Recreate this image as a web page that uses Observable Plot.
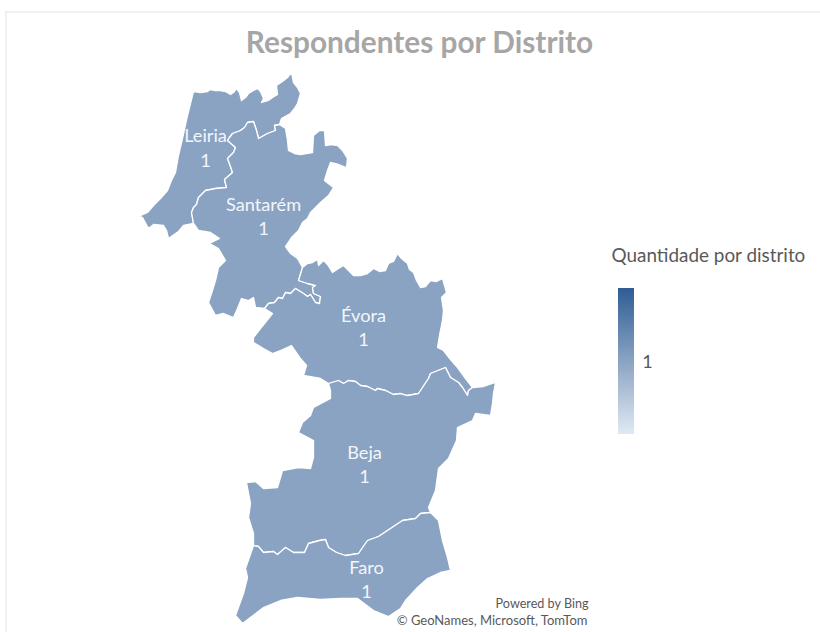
<!DOCTYPE html>
<html>
<head>
<meta charset="utf-8">
<script src="https://cdn.jsdelivr.net/npm/d3@7"></script>
<script src="https://cdn.jsdelivr.net/npm/@observablehq/plot@0.6"></script>
<style>html,body{margin:0;padding:0;background:#fff}svg{display:block}</style>
</head>
<body>
<div id="chart"></div>
<script>
// Outlines, in map units
const leiria = [[193,91],[200,92],[207,91],[210,89],[215,90],[220,90],[225,91],[230,94],[233,92],[236,88],[239,92],[241,100],[245,97],[248,93],[253,90],[257,88],[260,91],[263,98],[261,102],[268,100],[272,97],[277,94],[276,85],[282,81],[287,77],[291,72],[293,82],[297,87],[300,93],[297,103],[294,108],[290,113],[281,118],[279,124],[274,125],[275,130],[267,133],[258,138],[256,130],[253,121],[247,122],[244,127],[240,130],[232,133],[229,137],[227,140],[235,147],[233,152],[227,158],[230,166],[232,172],[224,179],[226,187],[215,188],[205,190],[198,197],[196,204],[193,207],[191,212],[193,223],[183,225],[178,231],[175,233],[168,238],[166,230],[163,225],[153,224],[148,228],[142,217],[138,216],[147,212],[153,205],[160,198],[167,190],[171,180],[175,172],[178,155],[182,138],[187,115]];
const santarem = [[279,124],[285,128],[287,140],[288,150],[294,153],[300,154],[312,152],[313,135],[319,130],[324,130],[325,145],[331,144],[337,145],[342,150],[347,158],[346,167],[338,164],[330,162],[327,170],[324,180],[333,187],[328,195],[320,202],[310,212],[307,218],[302,222],[298,230],[291,237],[285,246],[290,253],[297,258],[302,267],[298,280],[307,283],[315,285],[312,287],[313,293],[320,296],[319,303],[315,302],[310,294],[307,296],[303,293],[295,288],[290,293],[285,292],[282,298],[278,297],[274,302],[268,303],[264,308],[255,307],[253,297],[248,300],[241,298],[237,308],[233,317],[223,313],[215,315],[208,302],[212,290],[215,280],[218,267],[225,260],[218,248],[209,243],[219,238],[210,232],[198,230],[193,223],[191,212],[193,207],[196,204],[198,197],[205,190],[215,188],[226,187],[224,179],[232,172],[230,166],[227,158],[233,152],[235,147],[227,140],[229,137],[232,133],[240,130],[244,127],[247,122],[253,121],[256,130],[258,138],[267,133],[275,130],[274,125]];
const evora = [[302,267],[307,263],[312,262],[317,259],[318,265],[323,260],[327,264],[332,272],[338,268],[343,265],[348,270],[353,275],[360,275],[367,273],[373,268],[379,271],[385,270],[388,263],[393,261],[397,253],[401,258],[407,263],[409,269],[413,272],[416,280],[420,287],[425,286],[430,280],[436,281],[442,278],[446,292],[441,297],[443,310],[442,320],[439,335],[437,347],[443,350],[450,359],[457,367],[465,378],[472,387],[468,390],[467,395],[462,387],[458,382],[450,377],[445,367],[430,373],[428,378],[418,393],[407,395],[400,393],[393,394],[385,390],[377,388],[375,390],[367,386],[360,385],[355,381],[348,380],[343,383],[338,380],[328,383],[320,378],[303,375],[306,365],[300,358],[291,345],[280,350],[272,353],[263,348],[253,342],[253,337],[260,328],[268,318],[272,313],[264,308],[268,303],[274,302],[278,297],[282,298],[285,292],[290,293],[295,288],[303,293],[307,296],[310,294],[315,302],[319,303],[320,296],[313,293],[312,287],[315,285],[307,283],[298,280]];
const beja = [[472,387],[483,386],[495,382],[493,393],[492,403],[490,415],[482,414],[475,413],[472,420],[457,427],[456,440],[448,458],[438,468],[435,490],[428,507],[430,512],[420,513],[415,518],[402,520],[390,528],[378,536],[367,540],[358,553],[345,555],[336,552],[328,547],[325,539],[319,540],[308,543],[304,552],[293,552],[285,547],[277,554],[273,551],[263,552],[258,546],[253,545],[253,533],[248,517],[250,503],[246,482],[255,481],[263,488],[277,487],[280,477],[282,470],[298,467],[310,468],[313,457],[313,440],[298,432],[302,422],[310,415],[313,407],[330,398],[330,390],[328,383],[338,380],[343,383],[348,380],[355,381],[360,385],[367,386],[375,390],[377,388],[385,390],[393,394],[400,393],[407,395],[418,393],[428,378],[430,373],[445,367],[450,377],[458,382],[462,387],[467,395],[468,390]];
const faro = [[430,512],[438,520],[442,540],[447,557],[450,570],[440,572],[427,578],[417,587],[405,600],[400,608],[388,616],[373,610],[357,598],[340,598],[320,599],[297,597],[280,600],[263,607],[242,623],[235,615],[243,593],[247,577],[245,568],[253,545],[258,546],[263,552],[273,551],[277,554],[285,547],[293,552],[304,552],[308,543],[319,540],[325,539],[328,547],[336,552],[345,555],[358,553],[367,540],[378,536],[390,528],[402,520],[415,518],[420,513]];

const districts = ["Leiria","Santarém","Évora","Beja","Faro"];
const outlines = [leiria, santarem, evora, beja, faro];
const counts = [1,1,1,1,1];
const labelX = [205,263,363,364,366];
const nameY = [136,205,316,453,568];
const countY = [161,229,340,477,592];

const title = "Respondentes por Distrito";
const legendTitle = "Quantidade por distrito";
const legendTick = 1;
const credits = ["Powered by Bing","© GeoNames, Microsoft, TomTom"];
const colorStops = ["#dfe9f5","#8aa3c2","#2f5d94"];

const shapes = outlines.flatMap((ring,i)=>ring.map(([x,y])=>({x,y,distrito:districts[i],quantidade:counts[i]})));
const labels = districts.map((d,i)=>({d,n:counts[i],x:labelX[i],yn:nameY[i],yc:countY[i]}));
const rampTop = 288, rampBottom = 434;
const ramp = d3.range(rampTop,rampBottom).map(y=>({y1:y,y2:y+1,v:2*(rampBottom-y-0.5)/(rampBottom-rampTop)}));

const font = "Lato, Carlito, 'Open Sans', sans-serif";
const plot = Plot.plot({
  width:820,height:632,margin:0,
  style:{background:"#fff",fontFamily:font,overflow:"visible"},
  x:{axis:null,domain:[0,820]},
  y:{axis:null,domain:[632,0]},
  color:{type:"linear",domain:[0,1,2],range:colorStops,legend:false},
  marks:[
    Plot.ruleY([11.5],{x1:5,x2:820,stroke:"#e3e3e3"}),
    Plot.ruleX([5.5],{y1:11,y2:632,stroke:"#e3e3e3"}),
    Plot.line(shapes,{x:"x",y:"y",z:"distrito",fill:"quantidade",stroke:"#fff",strokeWidth:1.3,curve:"linear-closed",strokeLinejoin:"round"}),
    Plot.text(labels,{x:"x",y:"yn",text:"d",fill:"#f3f6fa",fontSize:18.2,textAnchor:"middle"}),
    Plot.text(labels,{x:"x",y:"yc",text:"n",fill:"#f3f6fa",fontSize:18.2,textAnchor:"middle"}),
    Plot.text([title],{x:419,y:43,text:d=>d,fill:"#a6a6a6",fontSize:29.8,fontWeight:700,textAnchor:"middle"}),
    Plot.text([legendTitle],{x:611,y:255,text:d=>d,fill:"#595959",fontSize:18.9,textAnchor:"start"}),
    Plot.rect(ramp,{x1:()=>618,x2:()=>634,y1:"y1",y2:"y2",fill:"v"}),
    Plot.text([legendTick],{x:647,y:362,text:d=>d,fill:"#595959",fontSize:18,textAnchor:"middle"}),
    Plot.text([credits[0]],{x:588,y:603,text:d=>d,fill:"#595959",fontSize:12.6,textAnchor:"end"}),
    Plot.text([credits[1]],{x:587,y:620,text:d=>d,fill:"#595959",fontSize:13,textAnchor:"end"})
  ]
});
document.getElementById("chart").append(plot);
</script>
</body>
</html>
